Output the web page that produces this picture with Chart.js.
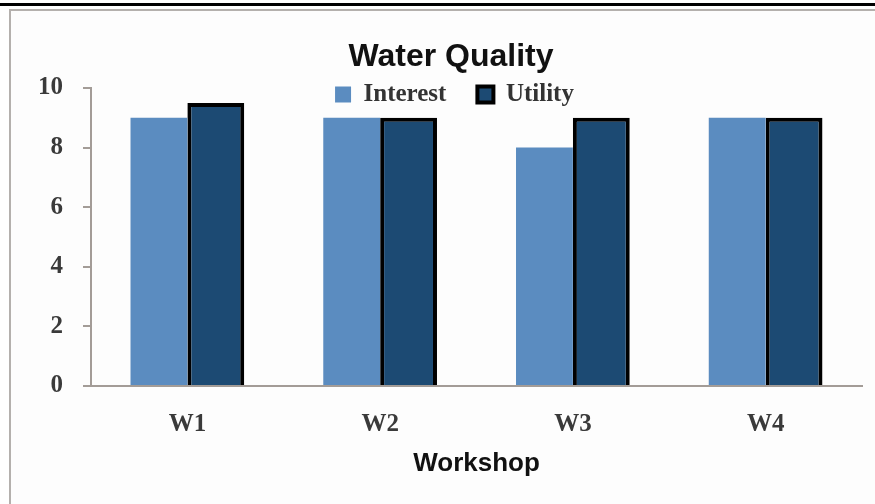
<!DOCTYPE html>
<html>
<head>
<meta charset="utf-8">
<script src="https://cdn.jsdelivr.net/npm/chart.js@4/dist/chart.umd.min.js"></script>
<style>
  html, body { margin: 0; padding: 0; background: #fff; }
  #page { position: relative; width: 875px; height: 504px; overflow: hidden; }
  #topline { position: absolute; left: 0; top: 3px; width: 875px; height: 3px; background: #000; }
  #frame { position: absolute; left: 9px; top: 9px; width: 900px; height: 520px;
           border-left: 2px solid #b4b0ad; border-top: 2px solid #b4b0ad; background: #fdfdfd; }
  #wrap { position: absolute; left: 0; top: 0; width: 875px; height: 504px; }
</style>
</head>
<body>
<div id="page">
  <div id="topline"></div>
  <div id="frame"></div>
  <div id="wrap"><canvas id="waterChart"></canvas></div>
</div>
<script>
const workshops = ["W1", "W2", "W3", "W4"];
const interest = [9, 9, 8, 9];
const utility = [9.5, 9, 9, 9];
const yTicks = [0, 2, 4, 6, 8, 10];

const serif = "'Liberation Serif', 'DejaVu Serif', serif";
const sans = "'Liberation Sans', Arial, sans-serif";
const axisGray = "#a39c97";

// legend overlaps the top of the plot, a bit left of centre like the original
const legendInPlot = {
  id: "legendInPlot",
  beforeLayout(chart) {
    const l = chart.legend;
    if (l && !l._flat) {
      const fit = l.fit;
      l.fit = function () { fit.call(this); this.height = 0; };
      l._flat = true;
    }
  },
  afterLayout(chart) {
    const l = chart.legend;
    const ca = chart.chartArea;
    l.left = ca.left - 22;
    l.right = ca.right - 22;
    l.top = ca.top - 37;
    l.bottom = ca.top + 25;
    l.height = l.bottom - l.top;
  }
};

const ctx = document.getElementById("waterChart").getContext("2d");
new Chart(ctx, {
  type: "bar",
  data: {
    labels: workshops,
    datasets: [
      {
        label: "Interest",
        data: interest,
        backgroundColor: "#5b8cc0",
        borderWidth: 0
      },
      {
        label: "Utility",
        data: utility,
        backgroundColor: "#1c4a73",
        borderColor: "#000",
        borderWidth: 4
      }
    ]
  },
  options: {
    responsive: true,
    maintainAspectRatio: false,
    animation: false,
    layout: { padding: { left: 40, right: 13, top: 29, bottom: 25 } },
    datasets: { bar: { categoryPercentage: 0.59, barPercentage: 1 } },
    plugins: {
      title: {
        display: true,
        text: "Water Quality",
        color: "#111",
        font: { family: sans, size: 32, weight: "bold" },
        padding: { top: 9, bottom: 11.6 }
      },
      legend: {
        position: "top",
        labels: {
          color: "#333",
          font: { family: serif, size: 25, weight: "bold" },
          boxWidth: 16,
          boxHeight: 16,
          padding: 31
        }
      },
      tooltip: { enabled: false }
    },
    scales: {
      x: {
        afterFit: s => { s.height = 93; },
        grid: { display: false, drawTicks: false },
        border: { display: true, color: axisGray, width: 2 },
        ticks: {
          color: "#3a3a3a",
          padding: 24,
          font: { family: serif, size: 25, weight: "bold" }
        },
        title: {
          display: true,
          text: "Workshop",
          color: "#111",
          font: { family: sans, size: 26, weight: "bold" },
          padding: { top: 5, bottom: 0 }
        }
      },
      y: {
        min: 0,
        max: 10,
        afterFit: s => { s.width = 51; },
        afterBuildTicks: s => { s.ticks = yTicks.map(v => ({ value: v })); },
        grid: { drawOnChartArea: false, tickLength: 8, color: axisGray, lineWidth: 2 },
        border: { display: true, color: axisGray, width: 2 },
        ticks: {
          color: "#3a3a3a",
          padding: 20,
          font: { family: serif, size: 25, weight: "bold" }
        }
      }
    }
  },
  plugins: [legendInPlot]
});
</script>
</body>
</html>
